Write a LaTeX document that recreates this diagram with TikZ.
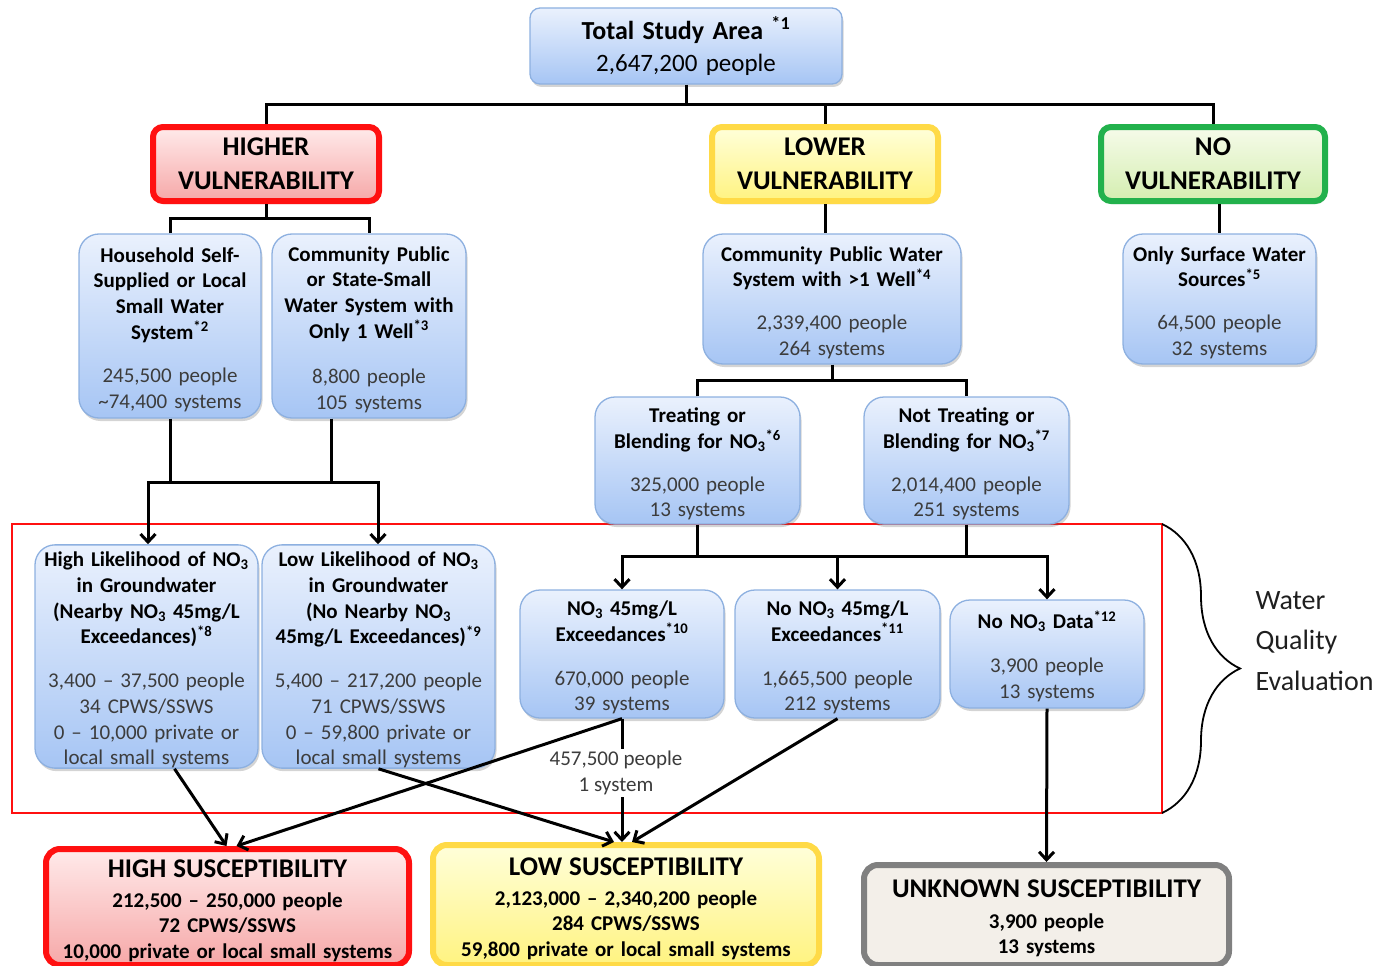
\documentclass[tikz,border=0pt]{standalone}
\usepackage{fontspec}
\setmainfont{Carlito}
\usetikzlibrary{arrows.meta,shadows,decorations.pathreplacing}
\definecolor{bluetop}{RGB}{234,241,253}
\definecolor{bluebot}{RGB}{166,197,244}
\definecolor{blueline}{RGB}{141,176,224}
\definecolor{bodygray}{RGB}{60,60,60}
\definecolor{redline}{RGB}{255,16,16}
\definecolor{redtop}{RGB}{255,234,234}
\definecolor{redbot}{RGB}{246,168,168}
\definecolor{yelline}{RGB}{255,218,70}
\definecolor{yeltop}{RGB}{255,255,218}
\definecolor{yelbot}{RGB}{255,243,128}
\definecolor{grnline}{RGB}{34,177,76}
\definecolor{grntop}{RGB}{246,251,234}
\definecolor{grnbot}{RGB}{212,238,176}
\definecolor{grayline}{RGB}{128,128,128}
\definecolor{grayfill}{RGB}{243,239,233}
\tikzset{
  softshadow/.style={drop shadow={shadow xshift=1.5pt,shadow yshift=-3pt,opacity=0.28,fill=black!60}},
  bluebox/.style={draw=blueline, line width=1.3pt, rounded corners=20pt,
    top color=bluetop, bottom color=bluebot, softshadow,
    align=center, inner xsep=0pt, inner ysep=0pt,
    font=\fontsize{21}{25.7}\selectfont},
  vulbox/.style={line width=6pt, rounded corners=10pt, softshadow,
    align=center, inner xsep=0pt, inner ysep=0pt,
    font=\fontsize{27}{34}\selectfont\bfseries},
  susbox/.style={line width=6pt, rounded corners=14pt, softshadow,
    align=center, inner xsep=0pt, inner ysep=0pt,
    font=\fontsize{21}{25.5}\selectfont\bfseries},
  conn/.style={line width=3pt, black},
  arr/.style={conn, -{Straight Barb[length=8pt,width=15pt]}},
  arrboth/.style={conn, {Straight Barb[length=8pt,width=15pt]}-{Straight Barb[length=8pt,width=15pt]}},
  lbl/.style={fill=white, align=center, inner sep=2pt, text=bodygray,
    font=\fontsize{21}{26}\selectfont},
}
\newcommand{\nthree}{NO\textsubscript{3}}
\newcommand{\lowerby}{\rule{0pt}{22pt}}
\newcommand{\lowerbig}{\rule{0pt}{25pt}}
\begin{document}
\begin{tikzpicture}[x=1pt,y=-1pt]
\useasboundingbox (0,0) rectangle (1382,966);

% red evaluation frame
\draw[redline, line width=1.6pt] (12,524) rectangle (1162,813);
\draw[black, line width=1.8pt, decorate, decoration={brace, amplitude=78pt}] (1162,524) -- (1162,813);
\node[anchor=west, align=left, font=\fontsize{28}{40.5}\selectfont, text=black!88] (wqe) at (1252,641) {Water\\Quality\\Evaluation};

% top
\node[bluebox, text width=312pt, minimum height=76pt, rounded corners=10pt,
      font=\fontsize{25}{32}\selectfont] (top) at (686,46)
  {{\fontsize{26}{32}\selectfont\bfseries Total Study Area \textsuperscript{*1}}\\2,647,200 people};

% vulnerability level
\node[vulbox, draw=redline, top color=redtop, bottom color=redbot, text width=226pt, minimum height=74pt] (higher) at (266,164) {HIGHER\\VULNERABILITY};
\node[vulbox, draw=yelline, top color=yeltop, bottom color=yelbot, text width=226pt, minimum height=74pt] (lower) at (825,164) {LOWER\\VULNERABILITY};
\node[vulbox, draw=grnline, top color=grntop, bottom color=grnbot, text width=224pt, minimum height=74pt] (novul) at (1213,164) {NO\\VULNERABILITY};

% second level
\node[bluebox, text width=182pt, minimum height=184pt] (hh) at (170,326)
  {{\lowerby\bfseries Household Self-\\Supplied or Local\\Small Water\\System\textsuperscript{*2}}\\[18pt]
   {\color{bodygray}245,500 people\\\textasciitilde74,400 systems}};
\node[bluebox, text width=194pt, minimum height=184pt] (cps) at (369,326)
  {{\lowerby\bfseries Community Public\\or State-Small\\Water System with\\Only 1 Well\textsuperscript{*3}}\\[20pt]
   {\color{bodygray}8,800 people\\105 systems}};
\node[bluebox, text width=258pt, minimum height=130pt] (cpw) at (832,299)
  {{\lowerby\bfseries Community Public Water\\System with \textgreater1 Well\textsuperscript{*4}}\\[17pt]
   {\color{bodygray}2,339,400 people\\264 systems}};
\node[bluebox, text width=193pt, minimum height=130pt] (surf) at (1219.5,299)
  {{\lowerby\bfseries Only Surface Water\\Sources\textsuperscript{*5}}\\[17pt]
   {\color{bodygray}64,500 people\\32 systems}};

% treating level
\node[bluebox, text width=205pt, minimum height=127pt] (treat) at (697.5,460.5)
  {{\lowerby\bfseries Treating or\\Blending for \nthree\textsuperscript{*6}}\\[17pt]
   {\color{bodygray}325,000 people\\13 systems}};
\node[bluebox, text width=205pt, minimum height=127pt] (nottreat) at (966.5,460.5)
  {{\lowerby\bfseries Not Treating or\\Blending for \nthree\textsuperscript{*7}}\\[17pt]
   {\color{bodygray}2,014,400 people\\251 systems}};

% water quality evaluation level
\node[bluebox, text width=223pt, minimum height=223pt] (highL) at (146.5,656.5)
  {{\lowerby\bfseries High Likelihood of \nthree\\in Groundwater\\(Nearby \nthree\ 45mg/L\\Exceedances)\textsuperscript{*8}}\\[18pt]
   {\color{bodygray}3,400 – 37,500 people\\34 CPWS/SSWS\\0 – 10,000 private or\\local small systems}};
\node[bluebox, text width=233pt, minimum height=223pt] (lowL) at (378.5,656.5)
  {{\lowerby\bfseries Low Likelihood of \nthree\\in Groundwater\\(No Nearby \nthree\\45mg/L Exceedances)\textsuperscript{*9}}\\[18pt]
   {\color{bodygray}5,400 – 217,200 people\\71 CPWS/SSWS\\0 – 59,800 private or\\local small systems}};
\node[bluebox, text width=204pt, minimum height=128pt] (no3) at (622,654)
  {{\lowerby\bfseries \nthree\ 45mg/L\\Exceedances\textsuperscript{*10}}\\[18pt]
   {\color{bodygray}670,000 people\\39 systems}};
\node[bluebox, text width=205pt, minimum height=128pt] (nono3) at (837.5,654)
  {{\lowerby\bfseries No \nthree\ 45mg/L\\Exceedances\textsuperscript{*11}}\\[18pt]
   {\color{bodygray}1,665,500 people\\212 systems}};
\node[bluebox, text width=194pt, minimum height=108pt] (nodata) at (1047,654)
  {{\lowerby\bfseries No \nthree\ Data\textsuperscript{*12}}\\[18pt]
   {\color{bodygray}3,900 people\\13 systems}};

% susceptibility level
\node[susbox, draw=redline, top color=redtop, bottom color=redbot, text width=363pt, minimum height=116pt] (high) at (227.5,907)
  {{\lowerbig\fontsize{27}{30}\selectfont HIGH SUSCEPTIBILITY}\\[4.5pt]
   212,500 – 250,000 people\\72 CPWS/SSWS\\10,000 private or local small systems};
\node[susbox, draw=yelline, top color=yeltop, bottom color=yelbot, text width=386pt, minimum height=120pt] (low) at (626,905)
  {{\lowerbig\fontsize{27}{30}\selectfont LOW SUSCEPTIBILITY}\\[4.5pt]
   2,123,000 – 2,340,200 people\\284 CPWS/SSWS\\59,800 private or local small systems};
\node[susbox, draw=grayline, fill=grayfill, text width=365pt, minimum height=100pt] (unk) at (1046.5,915)
  {{\lowerbig\fontsize{27}{30}\selectfont UNKNOWN SUSCEPTIBILITY}\\[5pt]
   3,900 people\\13 systems};

% connectors: top level
\coordinate (b1) at (686,104);
\draw[conn] (top.south) -- (b1);
\draw[conn] (higher.north) |- (b1) -| (novul.north);
\draw[conn] (b1) -| (lower.north);

% higher -> second level
\coordinate (b2) at (266,218);
\draw[conn] (higher.south) -- (b2);
\draw[conn] (hh.north) |- (b2) -| (cps.north);

% second level -> likelihood boxes
\coordinate (b3l) at (148,482);
\coordinate (b3r) at (378,482);
\coordinate (c331) at (331,482);
\draw[conn] (hh.south) -- (hh.south |- b3l);
\draw[conn] (c331 |- cps.south) -- (c331);
\draw[arrboth] (b3l |- highL.north) -- (b3l) -- (b3r) -- (b3r |- lowL.north);

% lower -> cpw -> treating
\draw[conn] (lower.south) -- (lower.south |- cpw.north);
\coordinate (b4) at (832,380);
\draw[conn] (cpw.south) -- (b4);
\draw[conn] (treat.north) |- (b4) -| (nottreat.north);

% no vulnerability -> surface
\draw[conn] (surf.north |- novul.south) -- (surf.north);

% treating -> evaluation
\coordinate (b5) at (697,556);
\draw[conn] (treat.south) -- (treat.south |- b5);
\draw[conn] (nottreat.south) -- (nottreat.south |- b5);
\draw[arrboth] (no3.north) -- (no3.north |- b5) -- (nodata.north |- b5) -- (nodata.north);
\draw[arr] (nono3.north |- b5) -- (nono3.north);

% evaluation -> susceptibility
\draw[arr] ([xshift=28pt]highL.south) -- ([xshift=-1pt]high.north);
\draw[arr] (no3.south) -- ([xshift=9pt]high.north);
\draw[arr] (lowL.south) -- ([xshift=-12pt]low.north);
\draw[arr] (no3.south) -- (no3.south |- low.north);
\draw[arr] (nono3.south) -- ([xshift=6pt]low.north);
\draw[arr] (nodata.south) -- (unk.north);
\node[lbl] (split) at (616,773) {457,500 people\\1 system};
\end{tikzpicture}
\end{document}
